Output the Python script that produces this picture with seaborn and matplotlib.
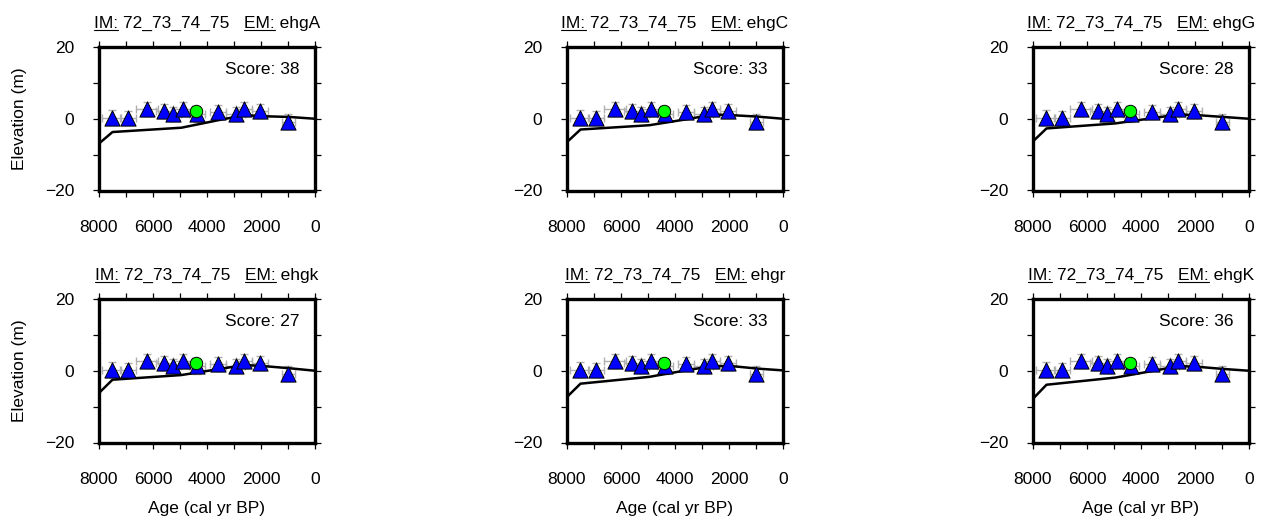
import matplotlib
matplotlib.use("Agg")
import matplotlib.pyplot as plt
import seaborn as sns
import pandas as pd
from matplotlib.lines import Line2D
from matplotlib.ticker import MultipleLocator

# observed index points (same in every panel)
obs_age = [7530, 6915, 6233, 5593, 5270, 4900, 4380, 3604, 2937, 2619, 2037, 989]
obs_elev = [0.3, 0.2, 2.7, 2.1, 1.3, 2.8, 1.2, 1.9, 1.4, 2.8, 2.2, -0.8]
obs_age_err = [350, 300, 400, 300, 300, 350, 300, 300, 350, 300, 300, 250]
obs_elev_err = [2.0, 2.0, 2.0, 2.0, 2.0, 2.0, 2.0, 2.0, 2.0, 2.0, 2.0, 2.0]

# highlighted point (green)
hl_age = [4400]
hl_elev = [2.2]

# model curves, one per earth model
model_age = [8000, 7500, 4950, 3450, 2600, 1900, 950, 0]
elev_ehgA = [-6.9, -3.7, -2.5, -0.2, 1.0, 0.7, 0.5, 0.0]
elev_ehgC = [-6.5, -3.0, -1.8, 0.0, 1.2, 1.0, 0.6, 0.0]
elev_ehgG = [-6.3, -2.7, -1.3, 0.3, 1.2, 1.0, 0.5, 0.0]
elev_ehgk = [-6.2, -2.5, -1.2, 0.6, 1.6, 1.3, 0.7, 0.0]
elev_ehgr = [-7.3, -3.6, -1.7, 0.3, 1.3, 1.3, 0.6, 0.1]
elev_ehgK = [-7.8, -3.9, -1.9, 0.1, 1.3, 1.1, 0.5, 0.0]

ice_model = "72_73_74_75"
em_names = ["ehgA", "ehgC", "ehgG", "ehgk", "ehgr", "ehgK"]
scores = [38, 33, 28, 27, 33, 36]
model_elevs = [elev_ehgA, elev_ehgC, elev_ehgG, elev_ehgk, elev_ehgr, elev_ehgK]

sns.set_theme(style="ticks")
plt.rcParams["font.family"] = ["Liberation Sans", "DejaVu Sans"]
plt.rcParams["axes.unicode_minus"] = True
for k in ["text.color", "axes.labelcolor", "xtick.color", "ytick.color"]:
    plt.rcParams[k] = "black"

W, H = 1263, 528
fig = plt.figure(figsize=(W / 100, H / 100), dpi=100)

col_left = [99, 567, 1033]
row_top = [47, 299]
ax_w, ax_h = 216, 143.5
fs = 12.5

obs = pd.DataFrame({"age": obs_age, "elev": obs_elev})
hl = pd.DataFrame({"age": hl_age, "elev": hl_elev})

titles = []
for i, (em, score, elev) in enumerate(zip(em_names, scores, model_elevs)):
    r, c = divmod(i, 3)
    ax = fig.add_axes([col_left[c] / W, 1 - (row_top[r] + ax_h) / H, ax_w / W, ax_h / H])

    ax.errorbar(obs_age, obs_elev, xerr=obs_age_err, yerr=obs_elev_err, fmt="none",
                ecolor="#b0b0b0", elinewidth=1.0, capsize=3, capthick=1.0, zorder=1)
    line_df = pd.DataFrame({"age": model_age, "elev": elev})
    sns.lineplot(data=line_df, x="age", y="elev", color="black", linewidth=1.8,
                 ax=ax, zorder=2, estimator=None)
    sns.scatterplot(data=obs, x="age", y="elev", marker="^", s=120, color="#0000ff",
                    edgecolor="black", linewidth=0.7, ax=ax, zorder=3)
    sns.scatterplot(data=hl, x="age", y="elev", marker="o", s=80, color="#00ff00",
                    edgecolor="black", linewidth=0.7, ax=ax, zorder=4)

    ax.set_xlim(8000, 0)
    ax.set_ylim(-20, 20)
    ax.xaxis.set_major_locator(MultipleLocator(2000))
    ax.xaxis.set_minor_locator(MultipleLocator(1000))
    ax.yaxis.set_major_locator(MultipleLocator(20))
    ax.yaxis.set_minor_locator(MultipleLocator(10))
    ax.tick_params(which="both", direction="out", top=True, right=True,
                   length=4, width=0.9, color="black", labelsize=fs)
    ax.tick_params(axis="x", which="major", pad=17)
    ax.tick_params(axis="y", which="major", pad=14)
    for sp in ax.spines.values():
        sp.set_linewidth(2.4)
        sp.set_color("black")

    ax.set_xlabel("Age (cal yr BP)" if r == 1 else "", fontsize=fs, labelpad=10)
    ax.set_ylabel("Elevation (m)" if c == 0 else "", fontsize=fs, labelpad=13)

    ax.text(0.93, 0.84, f"Score: {score}", transform=ax.transAxes, ha="right",
            va="center", fontsize=fs)
    prefix = f"IM: {ice_model}   "
    t = ax.text(0.5, 1.0 + 19 / ax_h, f"{prefix}EM: {em}",
                transform=ax.transAxes, ha="center", va="baseline", fontsize=fs)
    titles.append((t, prefix))

# underline the "IM:" and "EM:" parts of each title
fig.canvas.draw()
renderer = fig.canvas.get_renderer()
for t, prefix in titles:
    fp = t.get_fontproperties()
    bb = t.get_window_extent(renderer)
    d = renderer.get_text_width_height_descent(t.get_text(), fp, ismath=False)[2]
    base = bb.y0 + d - 2
    w_im = renderer.get_text_width_height_descent("IM:", fp, ismath=False)[0]
    w_pre = renderer.get_text_width_height_descent(prefix.replace(" ", "\u00a0"), fp, ismath=False)[0]
    w_em = renderer.get_text_width_height_descent("EM:", fp, ismath=False)[0]
    for x0, w in [(bb.x0, w_im), (bb.x0 + w_pre, w_em)]:
        fig.add_artist(Line2D([x0 / W, (x0 + w) / W], [base / H, base / H],
                              transform=fig.transFigure, color="black", linewidth=0.8))

fig.savefig("out.png", dpi=100, facecolor="white")
